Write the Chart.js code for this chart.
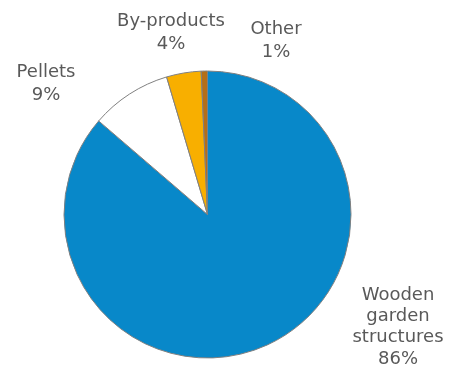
<!DOCTYPE html>
<html>
<head>
<meta charset="utf-8">
<script src="https://cdn.jsdelivr.net/npm/chart.js@4/dist/chart.umd.min.js"></script>
<style>
  html, body { margin: 0; padding: 0; background: #fff; }
  #wrap { width: 452px; height: 367px; position: relative; }
</style>
</head>
<body>
<div id="wrap"><canvas id="pie"></canvas></div>
<script>
const categories = ['Wooden garden structures', 'Pellets', 'By-products', 'Other'];
const labelLines = [['Wooden', 'garden', 'structures'], ['Pellets'], ['By-products'], ['Other']];
const shares     = [86.3, 9.1, 3.9, 0.7];
const shownPct   = ['86%', '9%', '4%', '1%'];
const colors     = ['#0888C9', '#FFFFFF', '#F8AF00', '#B46F18'];

// where each outside label sits (centre x, first line y, line step)
const labelPos = [
  { x: 398, y: 295, step: 21.3 },
  { x: 46,  y: 72,  step: 23 },
  { x: 171, y: 21,  step: 23 },
  { x: 276, y: 29,  step: 23 },
];

const outsideLabels = {
  id: 'outsideLabels',
  afterDraw(chart) {
    const ctx = chart.ctx;
    ctx.save();
    ctx.font = '18px "DejaVu Sans"';
    ctx.fillStyle = '#595959';
    ctx.textAlign = 'center';
    ctx.textBaseline = 'middle';
    categories.forEach((c, i) => {
      const lines = [...labelLines[i], shownPct[i]];
      const p = labelPos[i];
      lines.forEach((t, k) => ctx.fillText(t, p.x, p.y + k * p.step));
    });
    ctx.restore();
  }
};

new Chart(document.getElementById('pie'), {
  type: 'pie',
  data: {
    labels: categories,
    datasets: [{
      data: shares,
      backgroundColor: colors,
      borderColor: '#808080',
      borderWidth: 1,
    }],
  },
  options: {
    responsive: true,
    maintainAspectRatio: false,
    animation: false,
    layout: { padding: { left: 63.5, right: 100.5, top: 70.5, bottom: 8.5 } },
    plugins: {
      legend: { display: false },
      tooltip: { enabled: false },
    },
  },
  plugins: [outsideLabels],
});
</script>
</body>
</html>
